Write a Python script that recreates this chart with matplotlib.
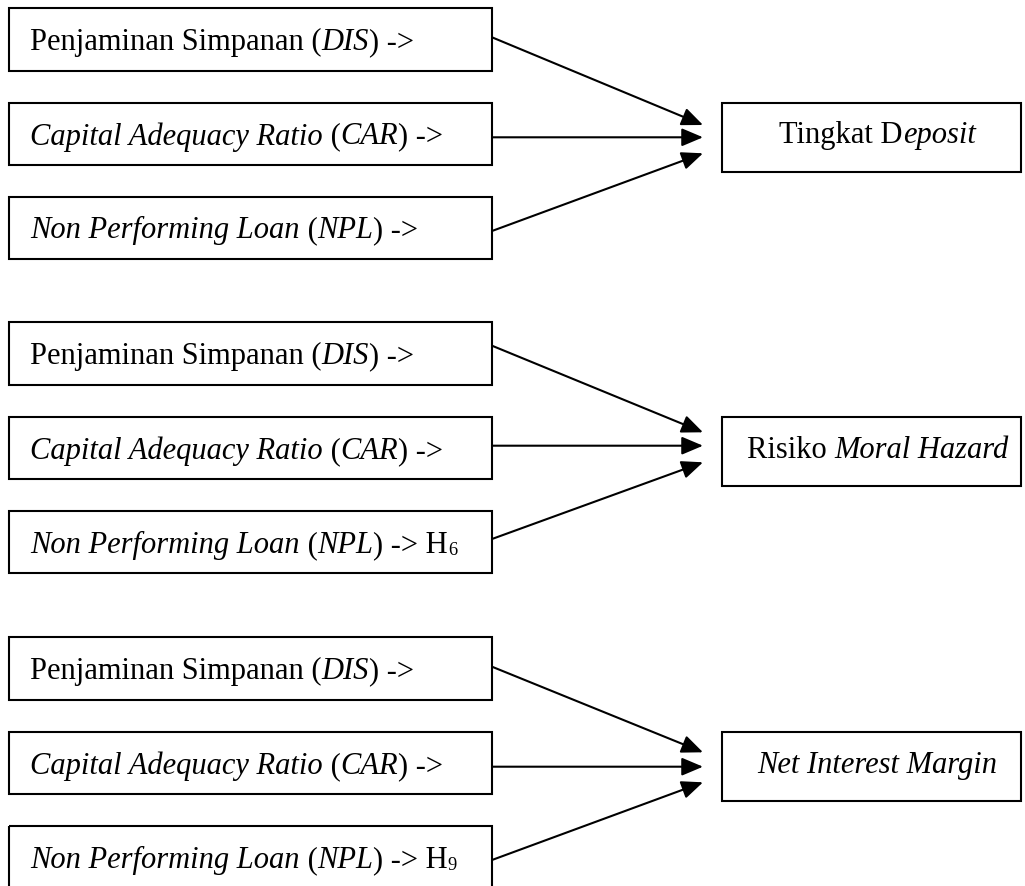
import matplotlib
matplotlib.use("Agg")
import matplotlib.pyplot as plt
from matplotlib.patches import Rectangle, FancyArrowPatch

# labels: list of (text, style) pieces, "n" = normal, "i" = italic
left_labels = [
    [("Penjaminan Simpanan (", "n"), ("DIS", "i"), (") ->", "n")],
    [("Capital Adequacy Ratio", "i"), (" (", "n"), ("CAR", "i"), (") ->", "n")],
    [("Non Performing Loan", "i"), (" (", "n"), ("NPL", "i"), (") ->", "n")],
]
npl_suffix = ["", "6", "9"]   # hypothesis index after "-> H"
right_labels = [
    [("Tingkat D", "n"), ("eposit", "i")],
    [("Risiko ", "n"), ("Moral Hazard", "i")],
    [("Net Interest Margin", "i")],
]

# layout (pixels, y going down)
W, H = 1025, 887
group_top = [9, 323.3, 638.3]
box_off = [0, 94.5, 188.5]
box_h = 62.5
left_x0, left_x1 = 9, 492
right_x0, right_x1 = 722, 1021
right_h = 69
arrow_start = [[38.3, 138.3, 232], [346.7, 446.7, 540], [667.7, 767.7, 861]]
arrow_tip = [[126, 138.3, 154.3], [433.3, 446.7, 463.3], [753.3, 767.7, 783.3]]
tip_x = 703

FONT = "Liberation Serif"
FS = 22
LW = 1.5

fig = plt.figure(figsize=(W / 100, H / 100), dpi=100)
ax = fig.add_axes([0, 0, 1, 1])
ax.set_xlim(0, W)
ax.set_ylim(H, 0)
ax.axis("off")
renderer = fig.canvas.get_renderer()


def draw_pieces(pieces, x, y, align="left"):
    '''draw text pieces one after another on the same baseline'''
    arts = []
    for txt, st in pieces:
        size = FS
        dy = 0
        if st == "sub":
            size = FS * 0.6
            dy = 2
        t = ax.text(x, y + dy, txt, fontsize=size, family=FONT,
                    style="italic" if st == "i" else "normal",
                    ha="left", va="baseline")
        arts.append(t)
        bb = t.get_window_extent(renderer)
        x += bb.width  # 1 px == 1 data unit here
    if align == "center":
        total = sum(a.get_window_extent(renderer).width for a in arts)
        for a in arts:
            px, py = a.get_position()
            a.set_x(px - total / 2)
    return arts


for g in range(3):
    top = group_top[g]
    for k in range(3):
        y0 = top + box_off[k]
        ax.add_patch(Rectangle((left_x0, y0), left_x1 - left_x0, box_h,
                               fill=False, ec="black", lw=LW))
        pieces = list(left_labels[k])
        if k == 2 and npl_suffix[g]:
            pieces = pieces + [(" H", "n"), (npl_suffix[g], "sub")]
        draw_pieces(pieces, 30, y0 + 41)

    ry0 = top + box_off[1]
    ax.add_patch(Rectangle((right_x0, ry0), right_x1 - right_x0, right_h,
                           fill=False, ec="black", lw=LW))
    arts = draw_pieces(right_labels[g], 0, ry0 + 40, align="center")
    # move centred labels onto the right box centre
    for a in arts:
        px, py = a.get_position()
        a.set_x(px + (right_x0 + right_x1) / 2 + 6)

    for k in range(3):
        arr = FancyArrowPatch((left_x1, arrow_start[g][k]), (tip_x, arrow_tip[g][k]),
                              arrowstyle="-|>,head_length=1.3,head_width=0.55",
                              mutation_scale=10, shrinkA=0, shrinkB=0,
                              color="black", lw=LW)
        ax.add_patch(arr)

fig.savefig("out.png", dpi=100, facecolor="white")
